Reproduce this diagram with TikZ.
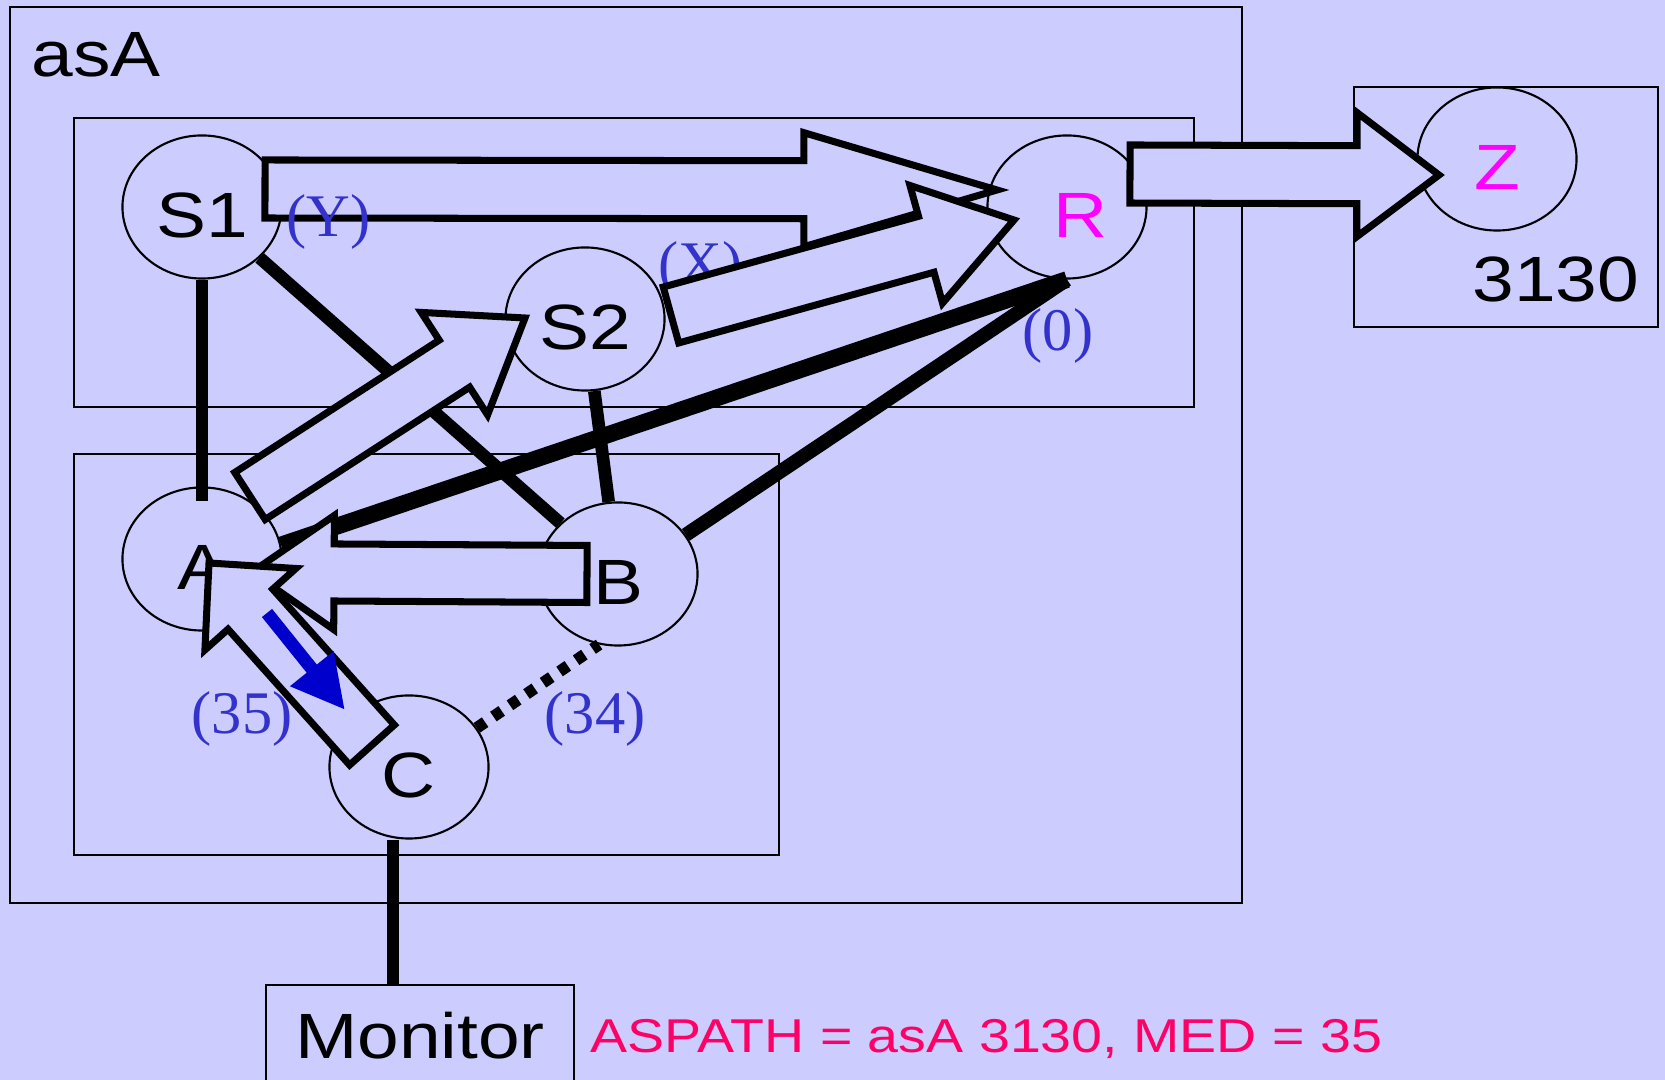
\documentclass[tikz,border=0pt]{standalone}
\usepackage{fontspec}
\newfontfamily\rotulo{Liberation Sans}[FakeStretch=1.17]
\newfontfamily\serifa{Liberation Serif}
\usetikzlibrary{shapes.geometric,arrows.meta,calc}

\definecolor{fundo}{HTML}{CCCCFF}
\definecolor{rosa}{HTML}{FF00FF}
\definecolor{vermelho}{HTML}{FF0066}
\definecolor{azulrot}{HTML}{3333CC}
\definecolor{azulseta}{HTML}{0000CC}

\tikzset{
  roteador/.style={ellipse, draw, line width=0.6pt, minimum width=1.59cm, minimum height=1.43cm,
    inner sep=0pt, font=\rotulo\fontsize{18.2}{20}\selectfont, text height=0.6cm, text depth=0pt},
  regiao/.style={draw, line width=0.6pt},
  texto/.style={inner sep=0pt, font=\rotulo\fontsize{18.2}{20}\selectfont},
  ligacao/.style={line width=3.6pt},
  setabloco/.style={draw, line width=2pt, fill=fundo, line join=miter},
  rotuloazul/.style={anchor=base west, inner sep=0pt, text=azulrot, font=\serifa\fontsize{17.2}{19}\selectfont},
}

% seta larga: cauda, ponta, meia largura, meia largura da cabeca, comprimento da cabeca
\newcommand{\blockarrow}[5]{%
  \coordinate (ba) at ($(#2)!#5!(#1)$);
  \draw[setabloco] ($(#1)!#3!90:(#2)$) -- ($(ba)!#3!90:(#2)$) -- ($(ba)!#4!90:(#2)$) -- (#2)
    -- ($(ba)!#4!-90:(#2)$) -- ($(ba)!#3!-90:(#2)$) -- ($(#1)!#3!-90:(#2)$) -- cycle;
}

\begin{document}
\begin{tikzpicture}[x=0.01cm, y=-0.01cm]

\fill[fundo] (0,0) rectangle (1665,1080);
\useasboundingbox (0,0) rectangle (1665,1080);

% Regioes
\draw[regiao] (10,7) rectangle (1242,903);
\draw[regiao] (74,118) rectangle (1194,407);
\draw[regiao] (74,454) rectangle (779,855);
\draw[regiao] (1354,87) rectangle (1658,327);
\node[texto, anchor=west] (asA) at (31,55) {asA};
\node[texto] (n3130) at (1556,279) {3130};

% Roteadores
\node[roteador] (S1) at (202,207) {S1};
\node[roteador] (S2) at (585,319) {S2};
\node[roteador, text=rosa] (R) at (1067,207) {\hspace*{0.28cm}R};
\node[roteador, text=rosa] (Z) at (1497,159) {Z};
\node[roteador] (A) at (202,559) {A};
\node[roteador] (B) at (618,574) {B};
\node[roteador] (C) at (409,767) {C};

% Monitor
\node[texto, draw, line width=0.6pt, anchor=north, minimum width=3.07cm, minimum height=1.2cm,
  text height=0.46cm, text depth=0.2cm] (Monitor) at (420,984) {Monitor};
\node[anchor=base west, inner sep=0pt, text=vermelho, font=\rotulo\fontsize{13.5}{15}\selectfont]
  (aspath) at (590,1053) {ASPATH = asA 3130, MED = 35};

% Ligacoes
\draw[ligacao] (S1.south) -- ($(A.north)+(0,15)$);
\draw[ligacao] (S1) -- (B);
\draw[ligacao] (S2) -- (B);
\draw[ligacao, line width=4.8pt] (R.south) -- (A.10);
\draw[ligacao, line width=4pt] (R.south) -- (B.30);
\coordinate (cmon) at ($(C.south)+(-16,0)$);
\draw[ligacao, line width=3.5pt] (cmon) -- (cmon |- Monitor.north);
\draw[ligacao, line width=3.3pt, dash pattern=on 0.1cm off 0.1cm] (C.30) -- (B.255);

\node[rotuloazul] (lX) at (658,284) {(X)};

% Setas largas
\coordinate (s1r-a) at ($(S1)+(63,-18)$);
\coordinate (s1r-b) at ($(R)+(-70,-17)$);
\blockarrow{s1r-a}{s1r-b}{0.29cm}{0.57cm}{1.93cm}

\coordinate (s2r-a) at ($(S2)+(86,-4)$);
\coordinate (s2r-b) at ($(R)+(-53,13)$);
\blockarrow{s2r-a}{s2r-b}{0.29cm}{0.61cm}{0.91cm}

\coordinate (rz-a) at ($(R)+(63,-33)$);
\coordinate (rz-b) at ($(Z)+(-58,16)$);
\blockarrow{rz-a}{rz-b}{0.29cm}{0.62cm}{0.82cm}

\coordinate (as2-a) at ($(A)+(48,-63)$);
\coordinate (as2-b) at ($(S2)+(-60,-1)$);
\blockarrow{as2-a}{as2-b}{0.28cm}{0.61cm}{0.84cm}

\coordinate (ba-a) at ($(B)+(-31,0)$);
\coordinate (ba-b) at ($(A)+(50,13)$);
\blockarrow{ba-a}{ba-b}{0.285cm}{0.57cm}{0.82cm}

\coordinate (ca-a) at ($(C)+(-37,-22)$);
\coordinate (ca-b) at ($(A)+(7,4)$);
\blockarrow{ca-a}{ca-b}{0.30cm}{0.61cm}{0.62cm}

% Seta azul
\coordinate (az-a) at ($(A)+(65,54)$);
\coordinate (az-b) at ($(C)+(-64,-57)$);
\draw[azulseta, line width=3.7pt, -{Triangle[width=0.52cm,length=0.53cm]}] (az-a) -- (az-b);

% Rotulos
\foreach \n/\x/\y/\t in {lY/286/237/{(Y)}, l0/1022/351/{(0)}, l35/191/734/{(35)}, l34/544/734/{(34)}}{
    \node[rotuloazul] (\n) at (\x,\y) {\t};
}

\end{tikzpicture}
\end{document}
